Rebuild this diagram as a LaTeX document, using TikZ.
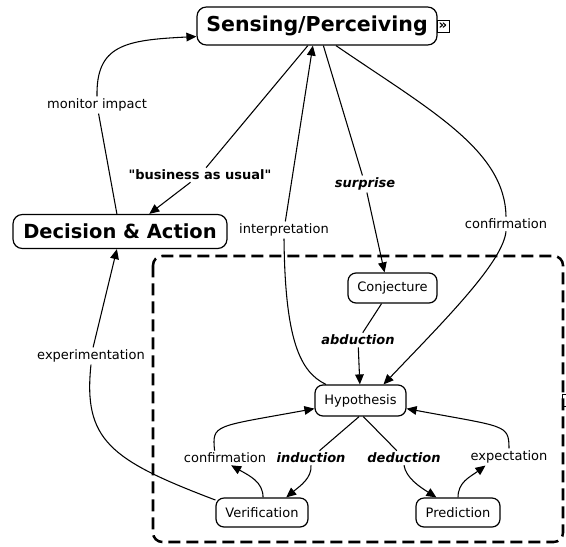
\documentclass[tikz,border=0pt]{standalone}
\usepackage{fontspec}
\setmainfont{DejaVu Sans}[Ligatures=TeXOff]
\usetikzlibrary{arrows.meta}
\begin{document}
\begin{tikzpicture}[x=0.75pt,y=-0.75pt,
  concept/.style={draw, line width=0.9pt, rounded corners=6pt, inner sep=0pt, align=center, font=\fontsize{9.75pt}{11pt}\selectfont},
  bigconcept/.style={concept, rounded corners=7pt, font=\fontsize{15.4pt}{17pt}\selectfont\bfseries},
  lab/.style={inner sep=1.5pt, font=\fontsize{9.75pt}{11pt}\selectfont},
  blab/.style={lab, font=\fontsize{9.75pt}{11pt}\selectfont\bfseries},
  bilab/.style={lab, font=\fontsize{9.75pt}{11pt}\selectfont\bfseries\itshape},
  ln/.style={line width=0.8pt},
  arr/.style={line width=0.8pt, -{Triangle[length=7.5pt,width=6.5pt]}},
  dashbox/.style={line width=1.9pt, dash pattern=on 9pt off 4.5pt, rounded corners=7pt}
]
\useasboundingbox (0,0) rectangle (566,546);

% dashed group
\draw[dashbox] (153,256) rectangle (563,542);
\draw[line width=0.6pt] (562,394) rectangle (572,406);

% concepts
\node[bigconcept, minimum width=180pt, minimum height=28.5pt] (sensing) at (317,26) {Sensing/Perceiving};
\node[draw, line width=0.6pt, inner sep=0pt, minimum size=9pt, font=\fontsize{10pt}{10pt}\selectfont\bfseries] (sicon) at (443,26) {»};
\node[bigconcept, font=\fontsize{14.6pt}{16pt}\selectfont\bfseries, minimum width=160.5pt, minimum height=25.5pt] (decision) at (120,231.5) {Decision \& Action};
\node[concept, minimum width=66.75pt, minimum height=22.5pt] (conj) at (392.5,288) {Conjecture};
\node[concept, minimum width=68.25pt, minimum height=23.25pt] (hyp) at (360.5,400.5) {Hypothesis};
\node[concept, minimum width=69pt, minimum height=21.75pt] (verif) at (262,512.5) {Verification};
\node[concept, minimum width=63pt, minimum height=21.75pt] (pred) at (458,512.5) {Prediction};

% linking phrases
\node[lab] (lmon) at (97,105) {monitor impact};
\node[blab] (lbau) at (200,175) {"business as usual"};
\node[lab] (linterp) at (284,230) {interpretation};
\node[bilab] (lsurp) at (365,184) {surprise};
\node[lab] (lconf1) at (506,224) {confirmation};
\node[bilab] (labd) at (358,340) {abduction};
\node[bilab] (lind) at (311,458) {induction};
\node[bilab] (lded) at (404,458) {deduction};
\node[lab] (lconf2) at (225,458) {confirmation};
\node[lab] (lexpect) at (509,457) {expectation};
\node[lab] (lexper) at (91,356) {experimentation};

% connectors
\draw[ln] (decision.100) -- (lmon);
\draw[arr] (lmon.north) .. controls (96,45) and (125,40) .. (sensing.185);
\draw[ln] (sensing.245) -- (lbau);
\draw[arr] (lbau) -- (decision.31);
\draw[ln] (hyp.155) .. controls (300,372) and (285,340) .. (linterp.south);
\draw[arr] (linterp) -- (sensing.258);
\draw[ln] (sensing.288) -- (lsurp);
\draw[arr] (lsurp) -- (conj.117);
\draw[ln] (sensing.314) .. controls (430,110) and (505,150) .. (lconf1.north);
\draw[arr] (lconf1.south) .. controls (503,262) and (445,320) .. (hyp.35);
\draw[ln] (conj.235) -- (labd);
\draw[arr] (labd) -- (hyp);
\draw[ln] (hyp.265) -- (lind);
\draw[arr] (lind.south) .. controls (312,478) and (300,486) .. (verif.32);
\draw[ln] (hyp.280) -- (lded);
\draw[arr] (lded.south) .. controls (406,478) and (420,487) .. (pred.145);
\draw[arr] (verif.86) .. controls (263,482) and (250,476) .. (lconf2.310);
\draw[arr] (lconf2.145) .. controls (212,424) and (214,427) .. (hyp.190);
\draw[arr] (pred.north) .. controls (458,482) and (470,477) .. (lexpect.200);
\draw[arr] (lexpect.north) .. controls (509,424) and (505,427) .. (hyp.350);
\draw[ln] (verif.165) .. controls (110,460) and (83,440) .. (lexper.south);
\draw[arr] (lexper) -- (decision.260);
\end{tikzpicture}
\end{document}
